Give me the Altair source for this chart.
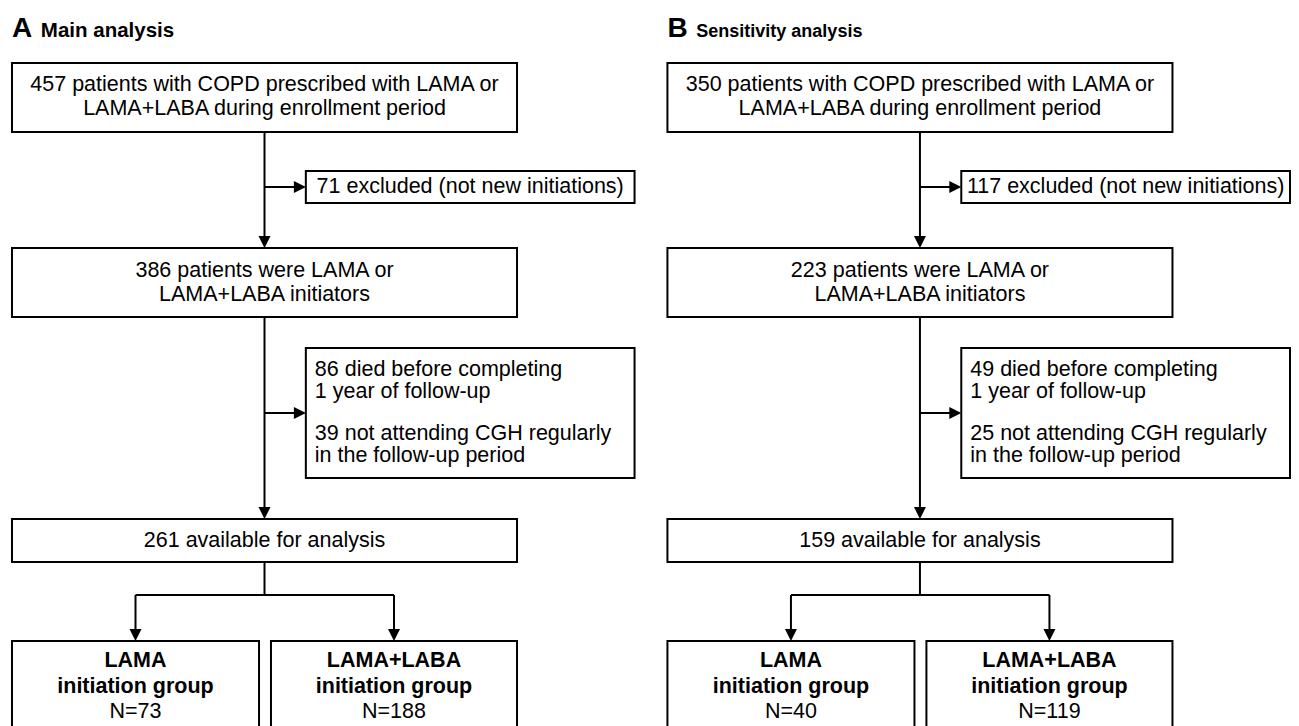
import altair as alt
import pandas as pd

# ---------------- data ----------------
panel_letters = ["A", "B"]
panel_titles = ["Main analysis", "Sensitivity analysis"]
enrolled = [457, 350]
excluded_not_new = [71, 117]
initiators = [386, 223]
died = [86, 49]
not_attending = [39, 25]
available = [261, 159]
n_lama = [73, 40]
n_lama_laba = [188, 119]

# ---------------- layout (pixel coordinates of panel A) ----------------
PANEL_DX = [0, 658]
TITLE_FS = [20.5, 18]
FONT = "Liberation Sans"
FS = 21.5

box_rows, rule_rows, arrow_rows, text_rows = [], [], [], []

for i in range(2):
    dx = PANEL_DX[i]

    def B(x1, x2, y1, y2):
        box_rows.append(dict(x=x1 + dx, x2=x2 + dx, y=y1, y2=y2))

    def R(x1, x2, y1, y2):
        rule_rows.append(dict(x=x1 + dx, x2=x2 + dx, y=y1, y2=y2))

    def A(x, y, d):
        arrow_rows.append(dict(x=x + dx, y=y, d=d))

    def T(x, y, s, style, fs=FS):
        text_rows.append(dict(x=x + dx, y=y, t=s, style=style, fs=fs))

    cx = 265.5
    # boxes
    B(12, 519, 63, 132)
    B(307, 637, 171, 203)
    B(12, 519, 248, 317)
    B(307, 637, 348, 478)
    B(12, 519, 519, 562)
    B(12, 260, 641, 780)
    B(272, 519, 641, 780)
    # connectors
    R(cx, cx, 132, 240)
    R(cx, 300, 187, 187)
    R(cx, cx, 317, 511)
    R(cx, 300, 413, 413)
    R(cx, cx, 562, 595)
    R(136, 395.5, 595, 595)
    R(136, 136, 595, 633)
    R(395.5, 395.5, 595, 633)
    # arrow heads (centre = tip - 6)
    A(301, 187, "r")
    A(301, 413, "r")
    A(cx, 242, "d")
    A(cx, 513, "d")
    A(136, 635, "d")
    A(395.5, 635, "d")
    # titles
    T(12, 37, panel_letters[i], "letter", 28)
    T(41, 37, panel_titles[i], "title", TITLE_FS[i])
    # texts
    T(cx, 85, f"{enrolled[i]} patients with COPD prescribed with LAMA or", "c")
    T(cx, 109, "LAMA+LABA during enrollment period", "c")
    T(472, 187, f"{excluded_not_new[i]} excluded (not new initiations)", "c")
    T(cx, 271, f"{initiators[i]} patients were LAMA or", "c")
    T(cx, 295, "LAMA+LABA initiators", "c")
    T(316, 370, f"{died[i]} died before completing", "l")
    T(316, 392, "1 year of follow-up", "l")
    T(316, 434, f"{not_attending[i]} not attending CGH regularly", "l")
    T(316, 456, "in the follow-up period", "l")
    T(cx, 541, f"{available[i]} available for analysis", "c")
    T(136, 661, "LAMA", "cb")
    T(136, 687, "initiation group", "cb")
    T(136, 712, f"N={n_lama[i]}", "c")
    T(395.5, 661, "LAMA+LABA", "cb")
    T(395.5, 687, "initiation group", "cb")
    T(395.5, 712, f"N={n_lama_laba[i]}", "c")

boxes = pd.DataFrame(box_rows)
rules = pd.DataFrame(rule_rows)
arrows = pd.DataFrame(arrow_rows)
texts = pd.DataFrame(text_rows)

W, H = 1283, 718
xs = alt.Scale(domain=[8, 1296], range=[0, W], nice=False, zero=False)
ys = alt.Scale(domain=[8, 8 + H], range=[0, H], nice=False, zero=False)
X = lambda f="x": alt.X(f"{f}:Q", scale=xs, axis=None)
Y = lambda f="y": alt.Y(f"{f}:Q", scale=ys, axis=None)

box_layer = alt.Chart(boxes).mark_rect(fill="white", stroke="black", strokeWidth=2).encode(
    x=X(), x2="x2:Q", y=Y(), y2="y2:Q"
)
rule_layer = alt.Chart(rules).mark_rule(color="black", strokeWidth=2).encode(
    x=X(), x2="x2:Q", y=Y(), y2="y2:Q"
)
arr_r = alt.Chart(arrows[arrows.d == "r"]).mark_point(
    shape="M1,0L-1,-1L-1,1Z", size=144, filled=True, color="black", opacity=1, strokeWidth=0
).encode(x=X(), y=Y())
arr_d = alt.Chart(arrows[arrows.d == "d"]).mark_point(
    shape="M0,1L-1,-1L1,-1Z", size=144, filled=True, color="black", opacity=1, strokeWidth=0
).encode(x=X(), y=Y())


def text_layer(style, **kw):
    return alt.Chart(texts[texts["style"] == style]).mark_text(font=FONT, color="black", **kw).encode(
        x=X(), y=Y(), text="t:N",
        size=alt.Size("fs:Q", scale=None, legend=None),
    )


layers = [
    box_layer,
    rule_layer,
    arr_r,
    arr_d,
    text_layer("letter", fontWeight="bold", align="left", baseline="alphabetic"),
    text_layer("title", fontWeight="bold", align="left", baseline="alphabetic"),
    text_layer("c", align="center", baseline="middle"),
    text_layer("l", align="left", baseline="middle"),
    text_layer("cb", fontWeight="bold", align="center", baseline="middle"),
]

chart = (
    alt.layer(*layers)
    .properties(width=W, height=H, padding=0, autosize="none", background="white")
    .configure_view(stroke=None)
)

chart.save("out.html", embed_options={"renderer": "svg", "actions": False})
